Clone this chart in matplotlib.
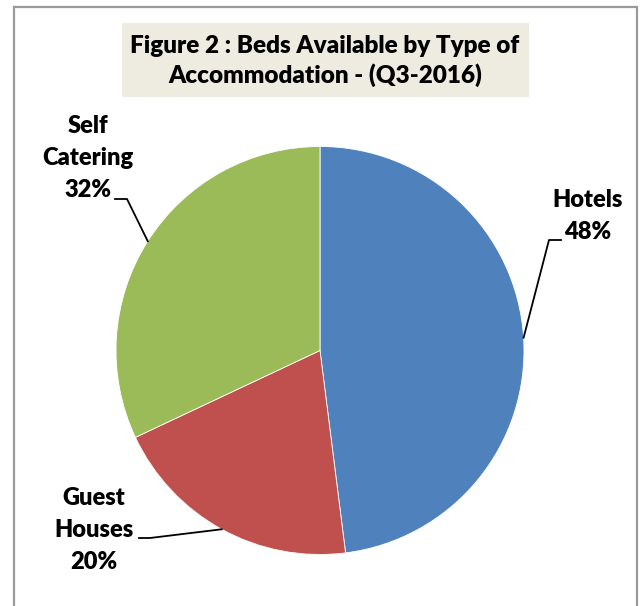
import numpy as np
import matplotlib.pyplot as plt
from matplotlib.patches import Rectangle

categories = ["Hotels", "Guest\nHouses", "Self\nCatering"]
shares = [48, 20, 32]
colors = ["#4F81BD", "#C0504D", "#9BBB59"]
title = "Figure 2 : Beds Available by Type of\nAccommodation - (Q3-2016)"

W, H = 641, 606
plt.rcParams['font.family'] = ['Lato', 'DejaVu Sans']

fig = plt.figure(figsize=(W / 100, H / 100), dpi=100)
ax = fig.add_axes([0, 0, 1, 1])

cx, cy, r = 320, H - 350.5, 204
ax.pie(shares, colors=colors, startangle=90, counterclock=False,
       center=(cx, cy), radius=r,
       wedgeprops=dict(edgecolor="white", linewidth=0.6))
ax.set_xlim(0, W)
ax.set_ylim(0, H)
ax.set_aspect("equal")
ax.axis("off")

# outer border
ax.add_patch(Rectangle((14, -20), 623, H - 7 + 20, fill=False,
                       edgecolor="#9a9a9a", linewidth=1.6, zorder=0))

# title box
ax.add_patch(Rectangle((122, H - 97), 407, 74, facecolor="#EEECE1",
                       edgecolor="none", zorder=1))
ax.text(325, H - 61, title, ha="center", va="center", fontsize=17.5,
        fontweight="heavy", linespacing=1.3, zorder=2)

# labels with leader lines
label_pos = [(588, 216), (94, 530), (88, 158)]
elbows = [[(549, 240), (561, 240)],
          [(150, 538), (139, 538)],
          [(127, 199), (115, 199)]]
cum = np.cumsum([0] + shares)
for i, name in enumerate(categories):
    mid = (cum[i] + cum[i + 1]) / 2 / 100 * 2 * np.pi
    ax_ = cx + r * np.sin(mid)
    ay_ = cy + r * np.cos(mid)
    xs = [ax_] + [p[0] for p in elbows[i]]
    ys = [ay_] + [H - p[1] for p in elbows[i]]
    ax.plot(xs, ys, color="black", linewidth=1.3, zorder=3)
    ax.text(label_pos[i][0], H - label_pos[i][1], f"{name}\n{shares[i]}%",
            ha="center", va="center", fontsize=17, fontweight="heavy",
            linespacing=1.58, zorder=4)

fig.savefig("out.png", dpi=100)
